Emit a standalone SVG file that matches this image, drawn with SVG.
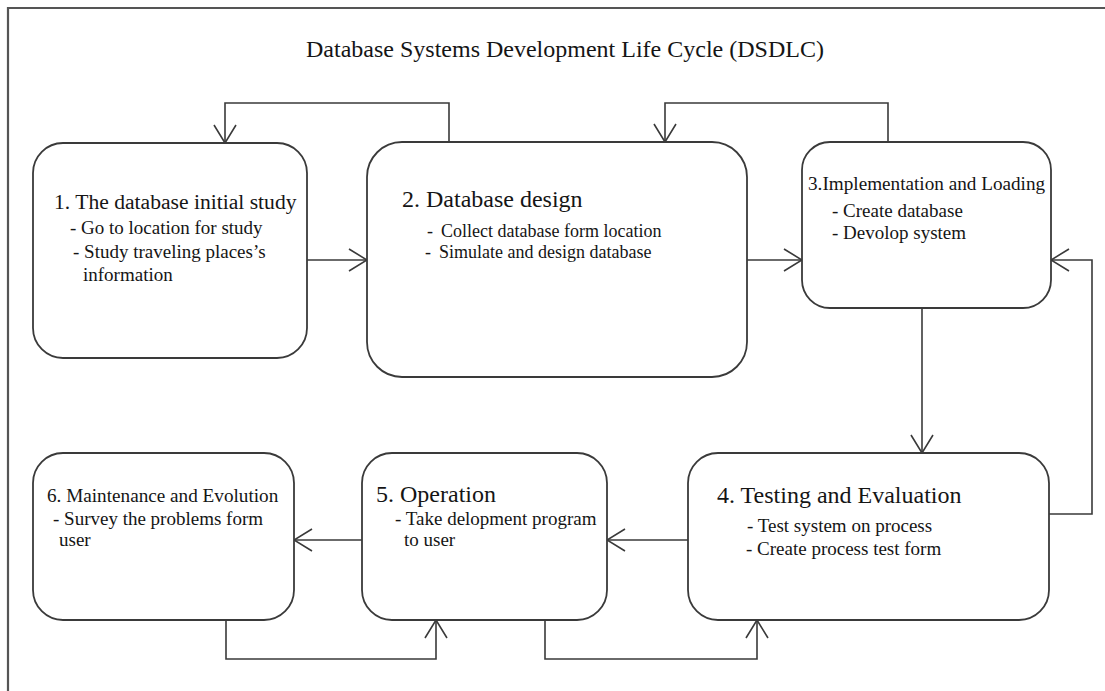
<svg xmlns="http://www.w3.org/2000/svg" width="1105" height="691" viewBox="0 0 1105 691">
  <style>
    .frame { fill: none; stroke: #555; stroke-width: 2.2; }
    .box { fill: #fff; stroke: #3a3a3a; stroke-width: 1.8; }
    .link { fill: none; stroke: #3a3a3a; stroke-width: 1.6; }
    text { font-family: "Liberation Serif", "Times New Roman", serif; fill: #151515; }
    .title { font-size: 24px; }
    .head { font-size: 24px; }
    .head-sm { font-size: 19.2px; }
    .item { font-size: 19px; }
    .item-sm { font-size: 18px; }
  </style>
  <defs>
    <marker id="arr" viewBox="0 0 20 24" refX="19" refY="12" markerWidth="20" markerHeight="24" markerUnits="userSpaceOnUse" orient="auto">
      <path d="M1,1 L19,12 L1,23" fill="none" stroke="#3a3a3a" stroke-width="1.6"/>
    </marker>
  </defs>

  <rect width="1105" height="691" fill="#fff"/>
  <!-- outer frame: top and left edges only -->
  <path class="frame" d="M8,691 V8 H1105"/>

  <text class="title" x="306" y="57">Database Systems Development Life Cycle (DSDLC)</text>

  <g id="connectors">
    <path class="link" d="M449,142 V103 H225 V143" marker-end="url(#arr)"/>
    <path class="link" d="M888,142 V103 H665 V142" marker-end="url(#arr)"/>
    <path class="link" d="M307,260 H367" marker-end="url(#arr)"/>
    <path class="link" d="M747,260 H802" marker-end="url(#arr)"/>
    <path class="link" d="M922,308 V453" marker-end="url(#arr)"/>
    <path class="link" d="M1049,514 H1092 V260 H1051" marker-end="url(#arr)"/>
    <path class="link" d="M688,540 H607" marker-end="url(#arr)"/>
    <path class="link" d="M362,540 H294" marker-end="url(#arr)"/>
    <path class="link" d="M226,620 V659 H436 V620" marker-end="url(#arr)"/>
    <path class="link" d="M545,620 V659 H757 V620" marker-end="url(#arr)"/>
  </g>

  <g id="step1">
    <rect class="box" x="33" y="143" width="274" height="215" rx="30"/>
    <text class="head" x="54" y="209" style="font-size:21.6px">1. The database initial study</text>
    <text class="item" x="70" y="234">- Go to location for study</text>
    <text class="item" x="73" y="258">- Study traveling places’s</text>
    <text class="item" x="83" y="281">information</text>
  </g>

  <g id="step2">
    <rect class="box" x="367" y="142" width="380" height="235" rx="35"/>
    <text class="head" x="402" y="207">2. Database design</text>
    <text class="item-sm" x="427" y="237">-</text>
    <text class="item-sm" x="441" y="237">Collect database form location</text>
    <text class="item-sm" x="425" y="258">-</text>
    <text class="item-sm" x="439" y="258">Simulate and design database</text>
  </g>

  <g id="step3">
    <rect class="box" x="802" y="142" width="249" height="166" rx="28"/>
    <text class="head-sm" x="808" y="190">3.Implementation and Loading</text>
    <text class="item" x="832" y="217">- Create database</text>
    <text class="item" x="832" y="239">- Devolop system</text>
  </g>

  <g id="step4">
    <rect class="box" x="688" y="453" width="361" height="167" rx="30"/>
    <text class="head" x="717" y="503">4. Testing and Evaluation</text>
    <text class="item" x="747" y="532">- Test system on process</text>
    <text class="item" x="746" y="555">- Create process test form</text>
  </g>

  <g id="step5">
    <rect class="box" x="362" y="453" width="245" height="167" rx="30"/>
    <text class="head" x="376" y="502">5. Operation</text>
    <text class="item" x="395" y="525">- Take delopment program</text>
    <text class="item" x="404" y="546">to user</text>
  </g>

  <g id="step6">
    <rect class="box" x="33" y="453" width="261" height="167" rx="30"/>
    <text class="head-sm" x="47" y="502">6. Maintenance and Evolution</text>
    <text class="item" x="53" y="525">- Survey the problems form</text>
    <text class="item" x="59" y="546">user</text>
  </g>
</svg>
